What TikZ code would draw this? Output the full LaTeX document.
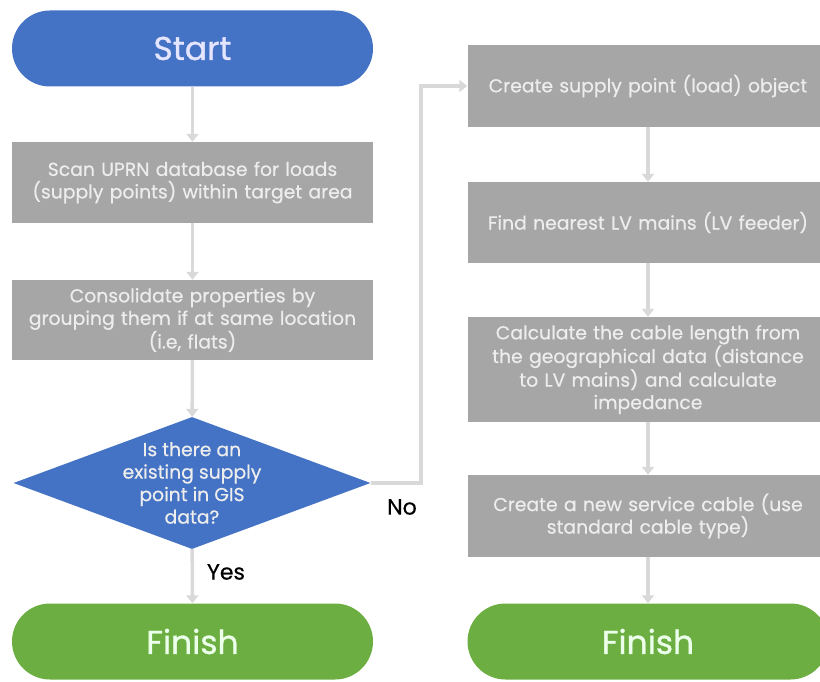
\documentclass[tikz,border=0pt]{standalone}
\usepackage{fontspec}
\setmainfont{Poppins}
\newfontfamily\boxfont{Poppins}[FakeBold=0.5]
\newfontfamily\endfont{Poppins}[FakeBold=0.9]
\usetikzlibrary{shapes.geometric,arrows.meta}
\definecolor{startblue}{HTML}{4472C4}
\definecolor{endgreen}{HTML}{6CAE41}
\definecolor{boxgrey}{HTML}{A6A6A6}
\definecolor{linegrey}{HTML}{D9D9D9}

\begin{document}
\begin{tikzpicture}[x=1pt, y=-1pt,
	terminal/.style={fill=#1, minimum width=361pt, minimum height=76pt, rounded corners=38pt, font=\endfont\fontsize{33}{38}\selectfont},
	process/.style={fill=boxgrey, text=white!93!black, minimum width=361pt, inner sep=0pt, text width=358pt, align=center, font=\boxfont\fontsize{18.8}{22.5}\selectfont},
	decision/.style={diamond, fill=startblue, minimum width=357pt, minimum height=132pt, inner sep=0pt},
	flow/.style={draw=linegrey, line width=3.5pt, -{Triangle[width=12pt,length=8pt]}},
	answer/.style={font=\boxfont\fontsize{22}{26}\selectfont}]
	\useasboundingbox (0,0) rectangle (820,682);
	\node[terminal=startblue, text=blue!10!white] (start) at (192.5,48.5) {Start};
	\node[process, minimum height=81pt] (scan) at (192.5,182.5) {Scan UPRN database for loads\\(supply points) within target area};
	\node[process, minimum height=80pt] (group) at (192.5,320) {Consolidate properties by\\grouping them if at same location\\(i.e, flats)};
	\node[decision] (exists) at (192,483) {};
	\node[align=center, text=white!93!black, font=\boxfont\fontsize{18.8}{22.5}\selectfont] (existstext) at (exists) {Is there an\\existing supply\\point in GIS\\data?};
	\node[terminal=endgreen, text=green!8!white] (finishleft) at (192.5,641.5) {Finish};
	\node[process, minimum height=82pt] (create) at (648,86) {Create supply point (load) object};
	\node[process, minimum height=81pt] (feeder) at (648,222.5) {Find nearest LV mains (LV feeder)};
	\node[process, minimum height=105pt] (length) at (648,369.5) {Calculate the cable length from\\the geographical data (distance\\to LV mains) and calculate\\impedance};
	\node[process, minimum height=82pt] (cable) at (648,516) {Create a new service cable (use\\standard cable type)};
	\node[terminal=endgreen, text=green!8!white] (finishright) at (648,641.5) {Finish};
	\coordinate (noturn) at (421,483);
	\node[answer] (yes) at (226,572) {Yes};
	\node[answer] (no) at (402,507) {No};
	\draw[flow]
		(start) -- (scan);
	\draw[flow] (scan) -- (group);
	\draw[flow] (group) -- (exists);
	\draw[flow] (exists) -- (finishleft);
	\draw[flow] (exists.east) -- (noturn) |- (create.west);
	\draw[flow] (create) -- (feeder);
	\draw[flow] (feeder) -- (length);
	\draw[flow] (length) -- (cable);
	\draw[flow] (cable) -- (finishright);
\end{tikzpicture}
\end{document}
